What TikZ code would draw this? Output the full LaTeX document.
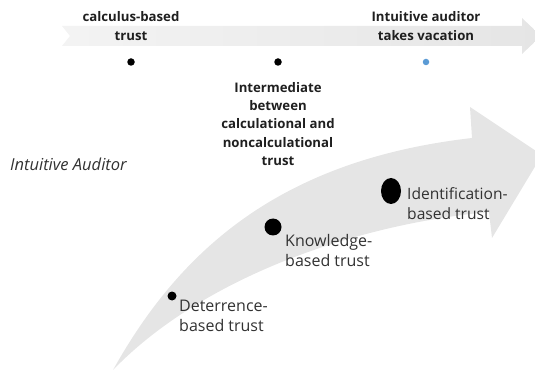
\documentclass[tikz,border=0pt]{standalone}
\usepackage{fontspec}
\setmainfont{Open Sans}
\usetikzlibrary{shapes.geometric}

\definecolor{arrowgray}{RGB}{229,229,229}
\definecolor{labelgray}{RGB}{50,50,50}
\definecolor{dotblue}{RGB}{91,155,213}

\begin{document}
\begin{tikzpicture}[x=1pt,y=-1pt,
    toplabel/.style={font=\bfseries\fontsize{13.2}{18.4}\selectfont, align=center, text=black!88},
    stagelabel/.style={font=\fontsize{16}{20}\selectfont, align=left, anchor=north west, text=labelgray, inner sep=0pt},
    smalldot/.style={circle, fill=black, inner sep=0pt, minimum size=7.5pt}]

    \useasboundingbox (0,0) rectangle (535,371);

    % timeline arrow
    \shade[left color=arrowgray!45, right color=arrowgray] (62,26) -- (522,26) -- (522,18) -- (541,36) -- (522,54) -- (522,46) -- (62,46) -- (70,36) -- cycle;

    % curved trust arrow
    \fill[arrowgray] (113,370) .. controls (180,250) and (280,160) .. (472,138) -- (470,107) -- (542,155) -- (492,238) -- (489,212) .. controls (350,225) and (200,280) .. (113,370) -- cycle;

    % calculus-based trust
    \node[toplabel] (calc) at (131,26) {calculus-based\\trust};
    \node[smalldot] (calcdot) at (131,62) {};

    % intermediate
    \node[smalldot] (middot) at (278,62) {};
    \node[toplabel] (intermediate) at (278,124) {Intermediate\\between\\calculational and\\noncalculational\\trust};

    % vacation
    \node[toplabel] (vacation) at (426,26) {Intuitive auditor\\takes vacation};
    \node[smalldot, fill=dotblue, minimum size=6.5pt] (vacdot) at (426,62) {};

    % intuitive auditor
    \node[font=\itshape\fontsize{16.5}{20}\selectfont, text=labelgray, anchor=west, inner sep=0pt] (auditor) at (10,164) {Intuitive Auditor};

    % deterrence-based trust
    \node[smalldot, minimum size=9pt] (deterdot) at (172,296) {};
    \node[stagelabel] (deter) at (179,300) {Deterrence-\\based trust};

    % knowledge-based trust
    \node[smalldot, minimum size=17pt] (knowdot) at (273,227) {};
    \node[stagelabel] (know) at (285,234) {Knowledge-\\based trust};

    % identification-based trust
    \node[ellipse, fill=black, inner sep=0pt, minimum width=20pt, minimum height=26pt] (identdot) at (391,191) {};
    \node[stagelabel, font=\fontsize{15.6}{20}\selectfont] (ident) at (407,187) {Identification-\\based trust};

\end{tikzpicture}
\end{document}
